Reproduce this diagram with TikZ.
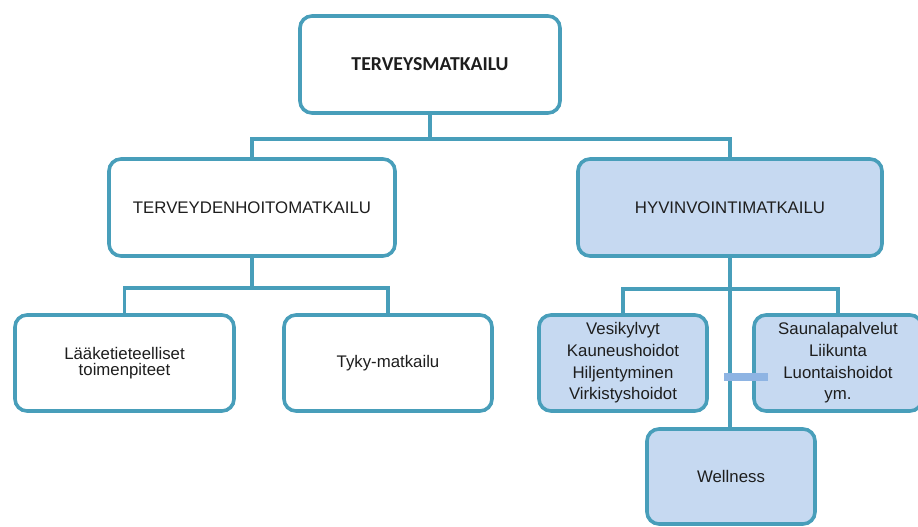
\documentclass[tikz,border=0pt]{standalone}
\usepackage{fontspec}
\setmainfont{Liberation Sans}
\newfontfamily\titlefont{Carlito}
\usepackage{tikz}
\usetikzlibrary{positioning, backgrounds}

\newlength\unitpx
\setlength\unitpx{0.75pt}

\definecolor{boxline}{RGB}{72,158,186}
\definecolor{boxfill}{RGB}{198,217,241}
\definecolor{barblue}{RGB}{142,180,227}
\definecolor{txt}{RGB}{30,30,30}

\tikzset{
  box/.style={draw=boxline, line width=3.6\unitpx, rounded corners=12\unitpx,
    fill=white, align=center, inner sep=0pt, text=txt,
    font=\fontsize{12.6}{16.3}\selectfont},
  bluebox/.style={box, fill=boxfill},
  link/.style={draw=boxline, line width=3.6\unitpx},
}

\begin{document}
\begin{tikzpicture}[x=0.75pt, y=-0.75pt]
  \useasboundingbox (0,0) rectangle (918,527);

  % levels
  \node[box, minimum width=260\unitpx, minimum height=97\unitpx,
    font=\titlefont\bfseries\fontsize{14.8}{17}\selectfont]
    (top) at (430,64.5) {TERVEYSMATKAILU};
  \node[box, minimum width=286\unitpx, minimum height=97\unitpx]
    (terv) at (252,207.5) {TERVEYDENHOITOMATKAILU};
  \node[bluebox, minimum width=304\unitpx, minimum height=97\unitpx]
    (hyv) at (730,207.5) {HYVINVOINTIMATKAILU};

  \node[box, minimum width=219\unitpx, minimum height=96\unitpx,
    font=\fontsize{12.6}{11.6}\selectfont]
    (laak) at (124.5,363) {Lääketieteelliset\\toimenpiteet};
  \node[box, minimum width=208\unitpx, minimum height=96\unitpx]
    (tyky) at (388,363) {Tyky-matkailu};
  \node[bluebox, minimum width=168\unitpx, minimum height=96\unitpx]
    (vesi) at (623,363) {Vesikylvyt\\Kauneushoidot\\Hiljentyminen\\Virkistyshoidot};
  \node[bluebox, minimum width=168\unitpx, minimum height=96\unitpx]
    (sauna) at (838,363) {Saunalapalvelut\\Liikunta\\Luontaishoidot\\ym.};
  \node[bluebox, minimum width=168\unitpx, minimum height=95\unitpx]
    (well) at (731,476.5) {Wellness};

  % connectors
  \begin{scope}[on background layer]
    \draw[link] (top.south) -- ++(0,24) coordinate (j1);
    \draw[link] (terv.north) |- (j1) -| (hyv.north);
    \draw[link] (terv.south) -- ++(0,30) coordinate (j2);
    \draw[link] (laak.north) |- (j2) -| (tyky.north);
    \draw[link] (hyv.south) -- (hyv.south |- well.north);
    \draw[link] (hyv.south) ++(0,31) coordinate (j3);
    \draw[link] (vesi.north) |- (j3) -| (sauna.north);
  \end{scope}

  % stray bar
  \coordinate (barL) at (724,377);
  \coordinate (barR) at (768,377);
  \draw[barblue, line width=7.5\unitpx] (barL) -- (barR);
\end{tikzpicture}
\end{document}
